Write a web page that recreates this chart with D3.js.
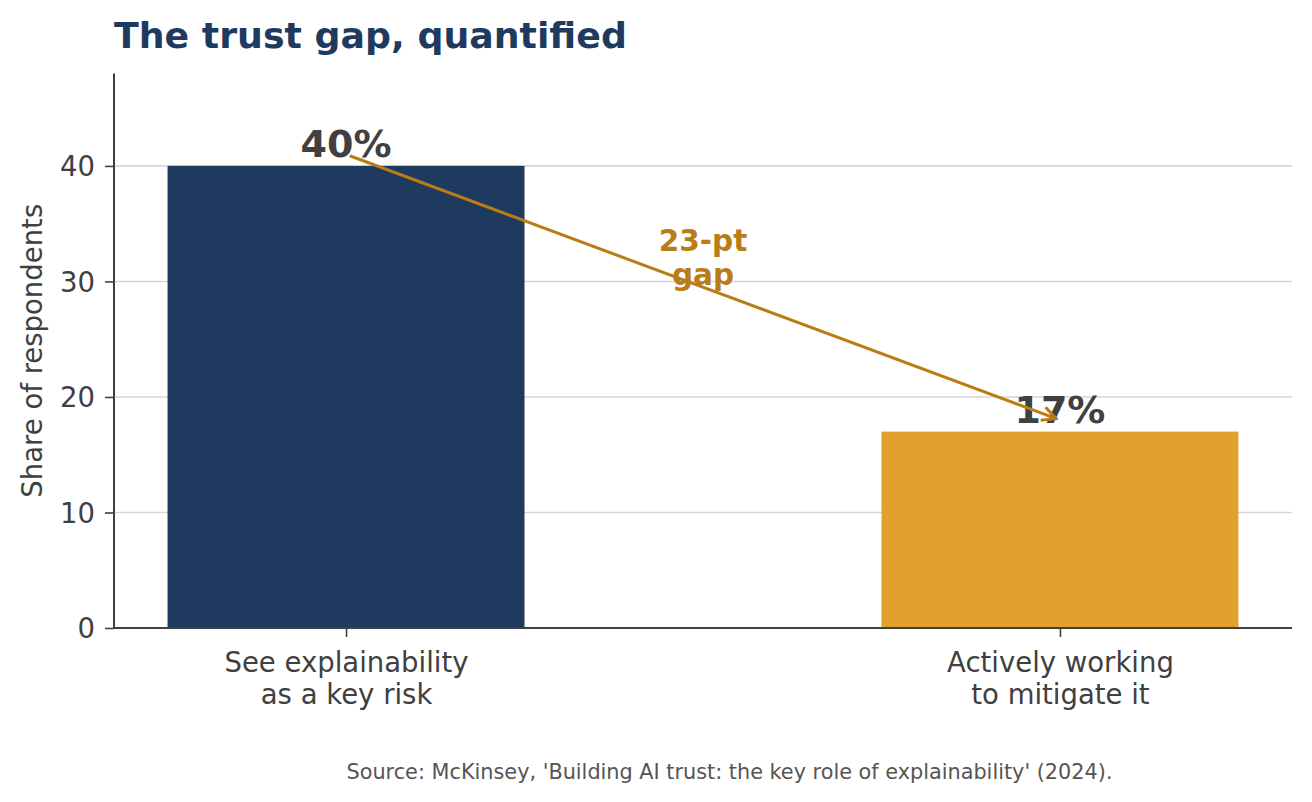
<!DOCTYPE html>
<html>
<head>
<meta charset="utf-8">
<script src="https://cdn.jsdelivr.net/npm/d3@7"></script>
<style>
  html, body { margin: 0; padding: 0; background: #fff; }
  svg { display: block; font-family: "DejaVu Sans", sans-serif; }
</style>
</head>
<body>
<svg id="chart" width="1312" height="802"></svg>
<script>
// data
const categories = [["See explainability", "as a key risk"], ["Actively working", "to mitigate it"]];
const values = [40, 17];
const barColors = ["#1f3a5f", "#e0a22d"];
const valueLabels = ["40%", "17%"];
const yTicks = [0, 10, 20, 30, 40];
const arrowFrom = [0, 41];
const arrowTo = [1, 18];
const gapLabel = ["23-pt", "gap"];
const gapPos = [0.5, 32.1];

const titleText = "The trust gap, quantified";
const yLabel = "Share of respondents";
const sourceText = "Source: McKinsey, 'Building AI trust: the key role of explainability' (2024).";

const svg = d3.select("#chart");
const dark = "#404040";
const accent = "#b97d16";
const font = "DejaVu Sans, sans-serif";

const margin = { top: 73.5, right: 20, bottom: 174, left: 114 };
const width = 1312 - margin.left - margin.right;
const height = 802 - margin.top - margin.bottom;

const g = svg.append("g").attr("transform", `translate(${margin.left},${margin.top})`);

// x is a continuous axis like matplotlib's bar positions
const x = d3.scaleLinear().domain([-0.325, 1.325]).range([0, width]);
const y = d3.scaleLinear().domain([0, 48]).range([height, 0]);
const barW = x(0.5) - x(0);

// gridlines
g.append("g")
  .selectAll("line")
  .data(yTicks)
  .enter()
  .append("line")
  .attr("x1", 0)
  .attr("x2", width)
  .attr("y1", d => y(d))
  .attr("y2", d => y(d))
  .attr("stroke", "#d6d6d6")
  .attr("stroke-width", 1.6);

// bars
g.selectAll(".bar")
  .data(values)
  .enter()
  .append("rect")
  .attr("class", "bar")
  .attr("x", (d, i) => x(i) - barW / 2)
  .attr("width", barW)
  .attr("y", d => y(d))
  .attr("height", d => y(0) - y(d))
  .attr("fill", (d, i) => barColors[i]);

// axes
const yAxis = g.append("g")
  .call(d3.axisLeft(y).tickValues(yTicks).tickSize(9).tickPadding(10).tickFormat(d3.format("d")))
  .attr("font-family", font);
yAxis.select(".domain").remove();
yAxis.selectAll(".tick line").attr("stroke", dark).attr("stroke-width", 1.6);
yAxis.selectAll(".tick text")
  .attr("fill", dark)
  .style("font-size", "27.5px")
  .attr("dy", "0.36em");

const xAxis = g.append("g")
  .attr("transform", `translate(0,${height})`)
  .call(d3.axisBottom(x).tickValues([0, 1]).tickSize(9).tickFormat(""))
  .attr("font-family", font);
xAxis.select(".domain").remove();
xAxis.selectAll(".tick line").attr("stroke", dark).attr("stroke-width", 1.6);

xAxis.selectAll(".tick")
  .append("text")
  .attr("fill", dark)
  .attr("text-anchor", "middle")
  .style("font-size", "27.5px")
  .selectAll("tspan")
  .data((d, i) => categories[i])
  .enter()
  .append("tspan")
  .attr("x", 0)
  .attr("y", (d, j) => 44 + j * 32)
  .text(d => d);

// spines
g.append("line").attr("x1", 0).attr("x2", 0).attr("y1", 0).attr("y2", height)
  .attr("stroke", dark).attr("stroke-width", 2);
g.append("line").attr("x1", 0).attr("x2", width).attr("y1", height).attr("y2", height)
  .attr("stroke", dark).attr("stroke-width", 2);

// value labels
g.selectAll(".val")
  .data(values)
  .enter()
  .append("text")
  .attr("class", "val")
  .attr("x", (d, i) => x(i))
  .attr("y", d => y(d) - 9)
  .attr("text-anchor", "middle")
  .attr("fill", dark)
  .style("font-size", "38px")
  .style("font-weight", "bold")
  .text((d, i) => valueLabels[i]);

// arrow marker
svg.append("defs").append("marker")
  .attr("id", "head")
  .attr("viewBox", "0 0 20 20")
  .attr("refX", 18)
  .attr("refY", 10)
  .attr("markerWidth", 20)
  .attr("markerHeight", 20)
  .attr("markerUnits", "userSpaceOnUse")
  .attr("orient", "auto")
  .append("path")
  .attr("d", "M4,3 L18,10 L4,17")
  .attr("fill", "none")
  .attr("stroke", accent)
  .attr("stroke-width", 3)
  .attr("stroke-linejoin", "miter");

const x1 = x(arrowFrom[0]), y1 = y(arrowFrom[1]);
const x2 = x(arrowTo[0]), y2 = y(arrowTo[1]);
const len = Math.hypot(x2 - x1, y2 - y1);
const ux = (x2 - x1) / len, uy = (y2 - y1) / len;
const shrink = 4;

g.append("line")
  .attr("x1", x1 + ux * shrink)
  .attr("y1", y1 + uy * shrink)
  .attr("x2", x2 - ux * shrink)
  .attr("y2", y2 - uy * shrink)
  .attr("stroke", accent)
  .attr("stroke-width", 3)
  .attr("marker-end", "url(#head)");

// gap label
g.append("text")
  .attr("text-anchor", "middle")
  .attr("fill", accent)
  .style("font-size", "29.5px")
  .style("font-weight", "bold")
  .selectAll("tspan")
  .data(gapLabel)
  .enter()
  .append("tspan")
  .attr("x", x(gapPos[0]))
  .attr("y", (d, i) => y(gapPos[1]) - 17 + i * 34)
  .attr("dy", "0.36em")
  .text(d => d);

// title
svg.append("text")
  .attr("x", margin.left)
  .attr("y", 48)
  .attr("fill", "#1f3a5f")
  .style("font-size", "36.3px")
  .style("font-weight", "bold")
  .text(titleText);

// y label
svg.append("text")
  .attr("transform", `translate(42,${margin.top + height / 2}) rotate(-90)`)
  .attr("text-anchor", "middle")
  .attr("fill", dark)
  .style("font-size", "27.5px")
  .text(yLabel);

// source
svg.append("text")
  .attr("x", 729.5)
  .attr("y", 779)
  .attr("text-anchor", "middle")
  .attr("fill", "#555555")
  .style("font-size", "20.8px")
  .text(sourceText);
</script>
</body>
</html>
